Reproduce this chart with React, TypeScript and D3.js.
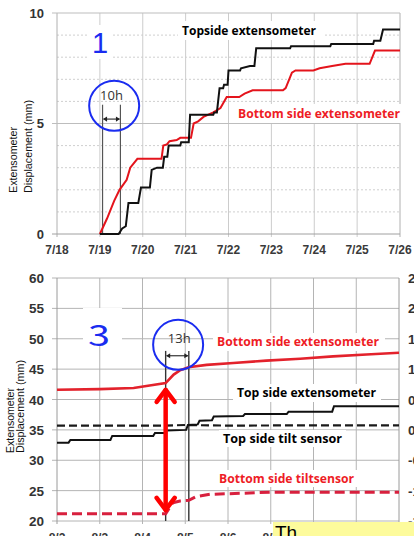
import React from 'react';
import * as d3 from 'd3';

// ---------- data ----------
// Panel 1: extensometer readings, July
const topDateLabels = ['7/18', '7/19', '7/20', '7/21', '7/22', '7/23', '7/24', '7/25', '7/26'];
const topYTicks = [0, 5, 10];

const topsideExt: [string, number][] = [
  ['07-19 00:00', 0], ['07-19 10:30', 0], ['07-19 12:30', 0.25], ['07-19 14:30', 0.35],
  ['07-19 16:00', 1.4], ['07-19 21:30', 1.4], ['07-19 23:00', 2.1], ['07-20 04:00', 2.1],
  ['07-20 05:00', 2.9], ['07-20 08:00', 3.0], ['07-20 11:15', 3.0], ['07-20 12:00', 3.5],
  ['07-20 13:45', 3.5], ['07-20 14:30', 4.0], ['07-20 21:00', 4.0], ['07-20 21:30', 4.15],
  ['07-21 01:45', 4.15], ['07-21 02:30', 5.4], ['07-21 15:30', 5.4], ['07-21 16:00', 5.5],
  ['07-21 17:30', 5.5], ['07-21 19:00', 6.6], ['07-21 21:00', 6.6], ['07-21 21:30', 6.75],
  ['07-21 23:30', 6.75], ['07-22 00:00', 7.4], ['07-22 06:30', 7.4], ['07-22 07:00', 7.5],
  ['07-22 12:00', 7.6], ['07-22 14:30', 7.6], ['07-22 15:30', 8.4], ['07-23 10:30', 8.4],
  ['07-23 11:00', 8.5], ['07-24 09:00', 8.5], ['07-24 09:30', 8.6], ['07-25 09:00', 8.6],
  ['07-25 09:30', 8.75], ['07-25 13:00', 8.75], ['07-25 14:30', 9.25], ['07-26 00:00', 9.25],
];

const bottomSideExt: [string, number][] = [
  ['07-19 00:00', 0], ['07-19 04:00', 0.7], ['07-19 08:00', 1.5], ['07-19 11:00', 2.0],
  ['07-19 15:00', 2.45], ['07-19 17:00', 3.0], ['07-19 21:00', 3.4], ['07-20 10:30', 3.4],
  ['07-20 11:30', 4.0], ['07-20 13:30', 4.05], ['07-20 15:00', 4.2], ['07-20 19:00', 4.25],
  ['07-20 21:00', 4.35], ['07-21 03:00', 4.35], ['07-21 04:30', 5.0], ['07-21 07:00', 5.1],
  ['07-21 10:00', 5.3], ['07-21 15:30', 5.5], ['07-21 19:30', 5.7], ['07-21 23:00', 6.2],
  ['07-22 06:00', 6.2], ['07-22 09:00', 6.35], ['07-22 13:30', 6.5], ['07-23 06:30', 6.5],
  ['07-23 08:00', 6.6], ['07-23 11:30', 7.3], ['07-23 13:30', 7.4], ['07-23 23:30', 7.4],
  ['07-24 03:00', 7.5], ['07-24 10:00', 7.6], ['07-24 17:30', 7.7], ['07-25 07:00', 7.7],
  ['07-25 10:00', 8.3], ['07-26 00:00', 8.3],
];

// lag between the two extensometers (10 h)
const topLagStart = '07-19 01:30';
const topLagEnd = '07-19 11:30';

// Panel 3: extensometer and tilt sensor readings, August
const botDateLabels = ['8/2', '8/3', '8/4', '8/5', '8/6', '8/7', '8/8', '8/9', '8/10'];
const botYTicks = [20, 25, 30, 35, 40, 45, 50, 55, 60];
const botRightLabels = ['-1.5', '-1.0', '-0.5', '0.0', '0.5', '1.0', '1.5', '2.0', '2.5'];

const botBottomExt: [string, number][] = [
  ['08-02 00:00', 41.6], ['08-03 00:00', 41.7], ['08-03 19:00', 41.9], ['08-04 04:00', 42.3],
  ['08-04 13:00', 42.7], ['08-04 17:30', 44.1], ['08-04 21:00', 44.8], ['08-05 01:45', 45.3],
  ['08-05 12:00', 45.7], ['08-06 03:00', 46.0], ['08-06 21:30', 46.4], ['08-07 16:30', 46.7],
  ['08-08 11:00', 47.1], ['08-09 05:45', 47.4], ['08-10 00:00', 47.7],
];

const botTopExt: [string, number][] = [
  ['08-02 00:00', 32.9], ['08-02 06:30', 32.9], ['08-02 07:30', 33.35], ['08-03 06:00', 33.35],
  ['08-03 07:00', 34.0], ['08-04 06:00', 34.0], ['08-04 07:00', 34.5], ['08-04 12:30', 34.5],
  ['08-04 13:30', 34.9], ['08-05 00:30', 35.0], ['08-05 01:30', 35.8], ['08-05 07:00', 35.9],
  ['08-05 08:00', 36.5], ['08-05 15:00', 36.6], ['08-05 16:00', 37.2], ['08-06 08:30', 37.3],
  ['08-06 09:30', 37.6], ['08-07 09:00', 37.6], ['08-07 10:00', 38.0], ['08-08 10:30', 38.0],
  ['08-08 11:30', 38.9], ['08-10 00:00', 38.9],
];

const botTopTilt: [string, number][] = [
  ['08-02 00:00', 35.7], ['08-04 12:00', 35.7], ['08-05 00:00', 35.8], ['08-06 00:00', 35.7],
  ['08-08 00:00', 35.75], ['08-10 00:00', 35.75],
];

const botBottomTilt: [string, number][] = [
  ['08-02 00:00', 21.2], ['08-04 13:00', 21.2], ['08-04 17:00', 23.0], ['08-04 21:00', 23.3],
  ['08-05 02:00', 23.4], ['08-05 06:00', 24.0], ['08-05 14:00', 24.4], ['08-06 12:00', 24.6],
  ['08-07 00:00', 24.75], ['08-10 00:00', 24.75],
];

// lag between the tilt sensor reaction and the extensometer reaction (13 h)
const botLagStart = '08-04 13:00';
const botLagEnd = '08-05 02:00';

// ---------- helpers ----------
const parseTime = d3.timeParse('%Y-%m-%d %H:%M');
const t = (s: string) => parseTime('2018-' + s) as Date;

const FONT = '"Liberation Sans", Arial, sans-serif';
const LABEL_FONT = '"Open Sans", "Liberation Sans", sans-serif';
const BLUE = '#1a2cf0';
const RED = '#ee1c25';

function Label(props: {
  x: number; y: number; text: string; color: string; len: number;
  box: [number, number, number, number]; size?: number;
}) {
  const { x, y, text, color, len, box, size = 12.5 } = props;
  return (
    <g>
      <rect x={box[0]} y={box[1]} width={box[2]} height={box[3]} fill="#fff" />
      <text x={x} y={y} fill={color} fontFamily={LABEL_FONT} fontWeight={700} fontSize={size}
        textLength={len} lengthAdjust="spacingAndGlyphs">{text}</text>
    </g>
  );
}

function SmallDoubleArrow({ x1, x2, y }: { x1: number; x2: number; y: number }) {
  const h = 2.6, l = 4.5;
  return (
    <g>
      <line x1={x1 + 1} x2={x2 - 1} y1={y} y2={y} stroke="#222" strokeWidth={1.1} />
      <path d={`M${x1 + 0.5},${y} L${x1 + l},${y - h} L${x1 + l},${y + h} Z`} fill="#222" />
      <path d={`M${x2 - 0.5},${y} L${x2 - l},${y - h} L${x2 - l},${y + h} Z`} fill="#222" />
    </g>
  );
}

export default function App() {
  // ---------- panel 1 scales ----------
  const topX = d3.scaleTime().domain([t('07-18 00:00'), t('07-26 00:00')]).range([57, 400]);
  const topY = d3.scaleLinear().domain([0, 10]).range([234, 13]);
  const topDays = d3.timeDay.range(t('07-18 00:00'), t('07-26 01:00'));
  const topLine = d3.line<[string, number]>().x(d => topX(t(d[0]))).y(d => topY(d[1]));

  // ---------- panel 3 scales ----------
  const botX = d3.scaleTime().domain([t('08-02 00:00'), t('08-10 00:00')]).range([57, 399]);
  const botY = d3.scaleLinear().domain([20, 60]).range([521, 278]);
  const botYRight = d3.scaleLinear().domain([-1.5, 2.5]).range([botY(20), botY(60)]);
  const botDays = d3.timeDay.range(t('08-02 00:00'), t('08-10 01:00'));
  const botLine = d3.line<[string, number]>().x(d => botX(t(d[0]))).y(d => botY(d[1]));

  const topMinor = d3.range(1, 10).filter(v => v !== 5);

  // annotation positions
  const tl1 = topX(t(topLagStart)), tl2 = topX(t(topLagEnd));
  const bl1 = botX(t(botLagStart)), bl2 = botX(t(botLagEnd));
  const arrowX = botX(t(botLagStart));
  const arrowTop = botY(41.9), arrowBot = botY(21.5);

  return (
    <svg width={414} height={536} style={{ position: 'absolute', left: 0, top: 0, background: '#fff' }}>
      <rect width={414} height={536} fill="#fff" />

      {/* ===== Panel 1 ===== */}
      <g>
        {topMinor.map(v => (
          <line key={v} x1={57} x2={400} y1={topY(v)} y2={topY(v)} stroke="#cfcfcf" strokeWidth={1}
            strokeDasharray="2 2" />
        ))}
        {topDays.map((d, i) => (
          <line key={i} x1={topX(d)} x2={topX(d)} y1={topY(10)} y2={topY(0) + 3}
            stroke={i === 0 || i === topDays.length - 1 ? '#b0b0b0' : '#cccccc'} strokeWidth={1} />
        ))}
        {topYTicks.map(v => (
          <line key={v} x1={52} x2={400} y1={topY(v)} y2={topY(v)}
            stroke={v === 0 ? '#a0a0a0' : '#bdbdbd'} strokeWidth={1} />
        ))}
        {topYTicks.map(v => (
          <text key={v} x={44} y={topY(v) + 4.5} textAnchor="end" fontFamily={FONT} fontWeight={700}
            fontSize={13} fill="#333">{v}</text>
        ))}
        {topDays.map((d, i) => (
          <text key={i} x={topX(d)} y={254} textAnchor="middle" fontFamily={FONT} fontWeight={700}
            fontSize={12} fill="#3a3a3a">{topDateLabels[i]}</text>
        ))}
        <text transform="translate(17,193) rotate(-90)" fontFamily={FONT} fontSize={10.5} fill="#111"
          textLength={66} lengthAdjust="spacingAndGlyphs">Extensometer</text>
        <text transform="translate(32,193) rotate(-90)" fontFamily={FONT} fontSize={10.5} fill="#111"
          textLength={93} lengthAdjust="spacingAndGlyphs">Displacement  (mm)</text>

        <rect x={87} y={25} width={26} height={34} fill="#fff" />
        <text x={92} y={53} fontFamily={FONT} fontSize={29} fill={BLUE}>1</text>

        <Label x={182} y={35} text="Topside extensometer" color="#000" len={134} box={[178, 21, 146, 19]} />
        <Label x={238} y={118} text="Bottom side extensometer" color={RED} len={162} box={[233, 104, 171, 19]} />

        <line x1={tl1} x2={tl1} y1={topY(5.85)} y2={topY(0)} stroke="#555" strokeWidth={1.2} />
        <line x1={tl2} x2={tl2} y1={topY(5.85)} y2={topY(0)} stroke="#555" strokeWidth={1.2} />

        <path d={topLine(bottomSideExt) || ''} fill="none" stroke="#e4141c" strokeWidth={2} />
        <path d={topLine(topsideExt) || ''} fill="none" stroke="#111" strokeWidth={2} />

        <SmallDoubleArrow x1={tl1} x2={tl2} y={topY(5.2)} />
        <text x={(tl1 + tl2) / 2} y={100} textAnchor="middle" fontFamily={LABEL_FONT} fontSize={13}
          fill="#333">10h</text>
        <circle cx={topX(t('07-19 08:00'))} cy={topY(5.8)} r={25} fill="none" stroke={BLUE} strokeWidth={2} />
      </g>

      {/* ===== Panel 3 ===== */}
      <g>
        {botYTicks.map(v => (
          <line key={v} x1={52} x2={399} y1={botY(v)} y2={botY(v)} stroke="#b4b4b4" strokeWidth={1} />
        ))}
        {botDays.map((d, i) => (
          <line key={i} x1={botX(d)} x2={botX(d)} y1={botY(60)} y2={botY(20) + 3}
            stroke={i === 0 || i === botDays.length - 1 ? '#9a9a9a' : '#b4b4b4'} strokeWidth={1} />
        ))}
        {botYTicks.map(v => (
          <text key={v} x={44} y={botY(v) + 5} textAnchor="end" fontFamily={FONT} fontWeight={700}
            fontSize={13.5} fill="#333">{v}</text>
        ))}
        {botRightLabels.map((s, i) => (
          <text key={s} x={408} y={botYRight(+s) + 5} fontFamily={FONT} fontWeight={700}
            fontSize={13.5} fill="#333">{s}</text>
        ))}
        {botDays.map((d, i) => (
          <text key={i} x={botX(d)} y={542} textAnchor="middle" fontFamily={FONT} fontWeight={700}
            fontSize={12} fill="#3a3a3a">{botDateLabels[i]}</text>
        ))}
        <text transform="translate(14,453) rotate(-90)" fontFamily={FONT} fontSize={10} fill="#111"
          textLength={65} lengthAdjust="spacingAndGlyphs">Extensometer</text>
        <text transform="translate(24,453) rotate(-90)" fontFamily={FONT} fontSize={10} fill="#111"
          textLength={93} lengthAdjust="spacingAndGlyphs">Displacement  (mm)</text>

        <rect x={83} y={308} width={39} height={38} fill="#fff" />
        <text x={88} y={346} fontFamily='"Noto Sans CJK JP", sans-serif' fontSize={29} fill={BLUE}
          textLength={22} lengthAdjust="spacingAndGlyphs">3</text>

        <Label x={217} y={346} text="Bottom side extensometer" color={RED} len={162} box={[213, 333, 172, 18]} />
        <Label x={237} y={397} text="Top side extensometer" color="#000" len={139} box={[233, 384, 148, 18]} />
        <Label x={223} y={443} text="Top side  tilt sensor" color="#000" len={119} box={[219, 430, 127, 17]} />
        <Label x={219} y={483} text="Bottom side tiltsensor" color={RED} len={135} box={[215, 470, 143, 17]} />

        <line x1={bl1} x2={bl1} y1={botY(48)} y2={botY(20)} stroke="#333" strokeWidth={1.4} />
        <line x1={bl2} x2={bl2} y1={botY(48)} y2={botY(20)} stroke="#333" strokeWidth={1.4} />

        <path d={botLine(botTopTilt) || ''} fill="none" stroke="#1a1a1a" strokeWidth={2.2} strokeDasharray="8 4" />
        <path d={botLine(botBottomTilt) || ''} fill="none" stroke="#d8203e" strokeWidth={3} strokeDasharray="10 5" />
        <path d={botLine(botTopExt) || ''} fill="none" stroke="#111" strokeWidth={2} />
        <path d={botLine(botBottomExt) || ''} fill="none" stroke="#e3222c" strokeWidth={2.6} />

        {/* reaction gap between extensometer and tilt sensor */}
        <g stroke="#ff0000" strokeWidth={4.5} strokeLinecap="round" strokeLinejoin="round" fill="none">
          <line x1={arrowX} x2={arrowX} y1={arrowTop + 2} y2={arrowBot - 2} />
          <path d={`M${arrowX - 9},${arrowTop + 14} L${arrowX},${arrowTop + 2} L${arrowX + 9},${arrowTop + 14}`} />
          <path d={`M${arrowX - 9},${arrowBot - 14} L${arrowX},${arrowBot - 2} L${arrowX + 9},${arrowBot - 14}`} />
        </g>

        <SmallDoubleArrow x1={bl1} x2={bl2} y={botY(47.2)} />
        <text x={(bl1 + bl2) / 2 + 2} y={343} textAnchor="middle" fontFamily={LABEL_FONT} fontSize={13}
          fill="#333">13h</text>
        <circle cx={botX(t('08-04 20:00'))} cy={botY(49)} r={25} fill="none" stroke={BLUE} strokeWidth={2} />
      </g>

      {/* caption box */}
      <rect x={273} y={522} width={141} height={14} fill="#fdfb9c" />
      <text x={275} y={539} fontFamily={FONT} fontSize={19} fill="#000">Th</text>
    </svg>
  );
}
